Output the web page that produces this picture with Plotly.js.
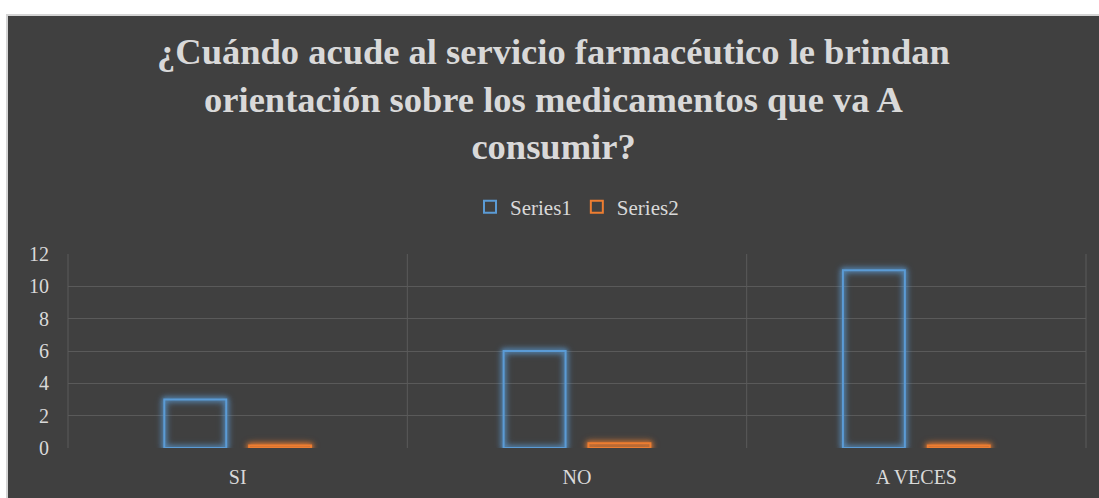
<!DOCTYPE html>
<html>
<head>
<meta charset="utf-8">
<script src="https://cdn.plot.ly/plotly-3.0.1.min.js"></script>
<style>
  html, body { margin: 0; padding: 0; background: #ffffff; width: 1099px; height: 498px; overflow: hidden; }
  #frame { position: absolute; left: 6px; top: 14px; border-left: 2px solid #d4d4d4; border-top: 2px solid #d4d4d4; }
  #chart { width: 1091px; height: 482px; }
</style>
</head>
<body>
<div id="frame"><div id="chart"></div></div>
<script>
const categories = ["SI", "NO", "A VECES"];
const series1 = [3, 6, 11];
const series2 = [0.15, 0.3, 0.15];
const seriesNames = ["Series1", "Series2"];
const seriesColors = ["#5B9BD5", "#ED7D31"];
const glowColors = ["rgba(91,155,213,0.9)", "rgba(237,125,49,0.9)"];
const titleText = "¿Cuándo acude al servicio farmacéutico le brindan<br>orientación sobre los medicamentos que va A<br>consumir?";

const textColor = "#d9d9d9";
const bg = "#404040";

const traces = [
  { type: "bar", name: seriesNames[0], x: categories, y: series1,
    marker: { color: "rgba(0,0,0,0)", line: { color: seriesColors[0], width: 2 } }, hoverinfo: "x+y" },
  { type: "bar", name: seriesNames[1], x: categories, y: series2,
    marker: { color: "rgba(0,0,0,0)", line: { color: seriesColors[1], width: 2 } }, hoverinfo: "x+y" }
];

const layout = {
  width: 1091, height: 482,
  paper_bgcolor: bg, plot_bgcolor: bg,
  margin: { l: 60, r: 13, t: 238, b: 50 },
  font: { family: "Liberation Serif, Times New Roman, serif", color: textColor, size: 20 },
  title: {
    text: titleText,
    font: { family: "Liberation Serif, Times New Roman, serif", size: 36.5, color: textColor, weight: "bold" },
    x: 0.5, xanchor: "center", xref: "container",
    y: 0.90, yanchor: "top", yref: "container"
  },
  showlegend: true,
  legend: {
    orientation: "h", x: 0.5, xanchor: "center", y: 1.242, yanchor: "middle",
    font: { size: 21, color: textColor }, bgcolor: "rgba(0,0,0,0)", traceorder: "normal"
  },
  barmode: "group", bargap: 0.5, bargroupgap: 0.27,
  xaxis: {
    type: "category", showgrid: false, zeroline: false,
    showline: false, ticks: "", tickfont: { size: 20, color: textColor },
    ticklabelstandoff: 15
  },
  yaxis: {
    range: [0, 12], dtick: 2, tick0: 0, showgrid: true, gridcolor: "#5a5a5a", gridwidth: 1,
    zeroline: false, showline: false, ticks: "", tickfont: { size: 20, color: textColor },
    ticklabelstandoff: 18
  },
  shapes: [0, 1, 2, 3].map(i => ({
    type: "line", xref: "paper", yref: "paper", x0: i / 3, x1: i / 3, y0: 0, y1: 1,
    line: { color: "#5a5a5a", width: 1 }, layer: "below"
  }))
};

Plotly.newPlot("chart", traces, layout, { displayModeBar: false, staticPlot: true }).then(gd => {
  const groups = gd.querySelectorAll(".barlayer .trace");
  groups.forEach((g, i) => {
    g.style.filter = "drop-shadow(0 0 3px " + glowColors[i] + ") drop-shadow(0 0 2px " + glowColors[i] + ")";
  });
});
</script>
</body>
</html>
